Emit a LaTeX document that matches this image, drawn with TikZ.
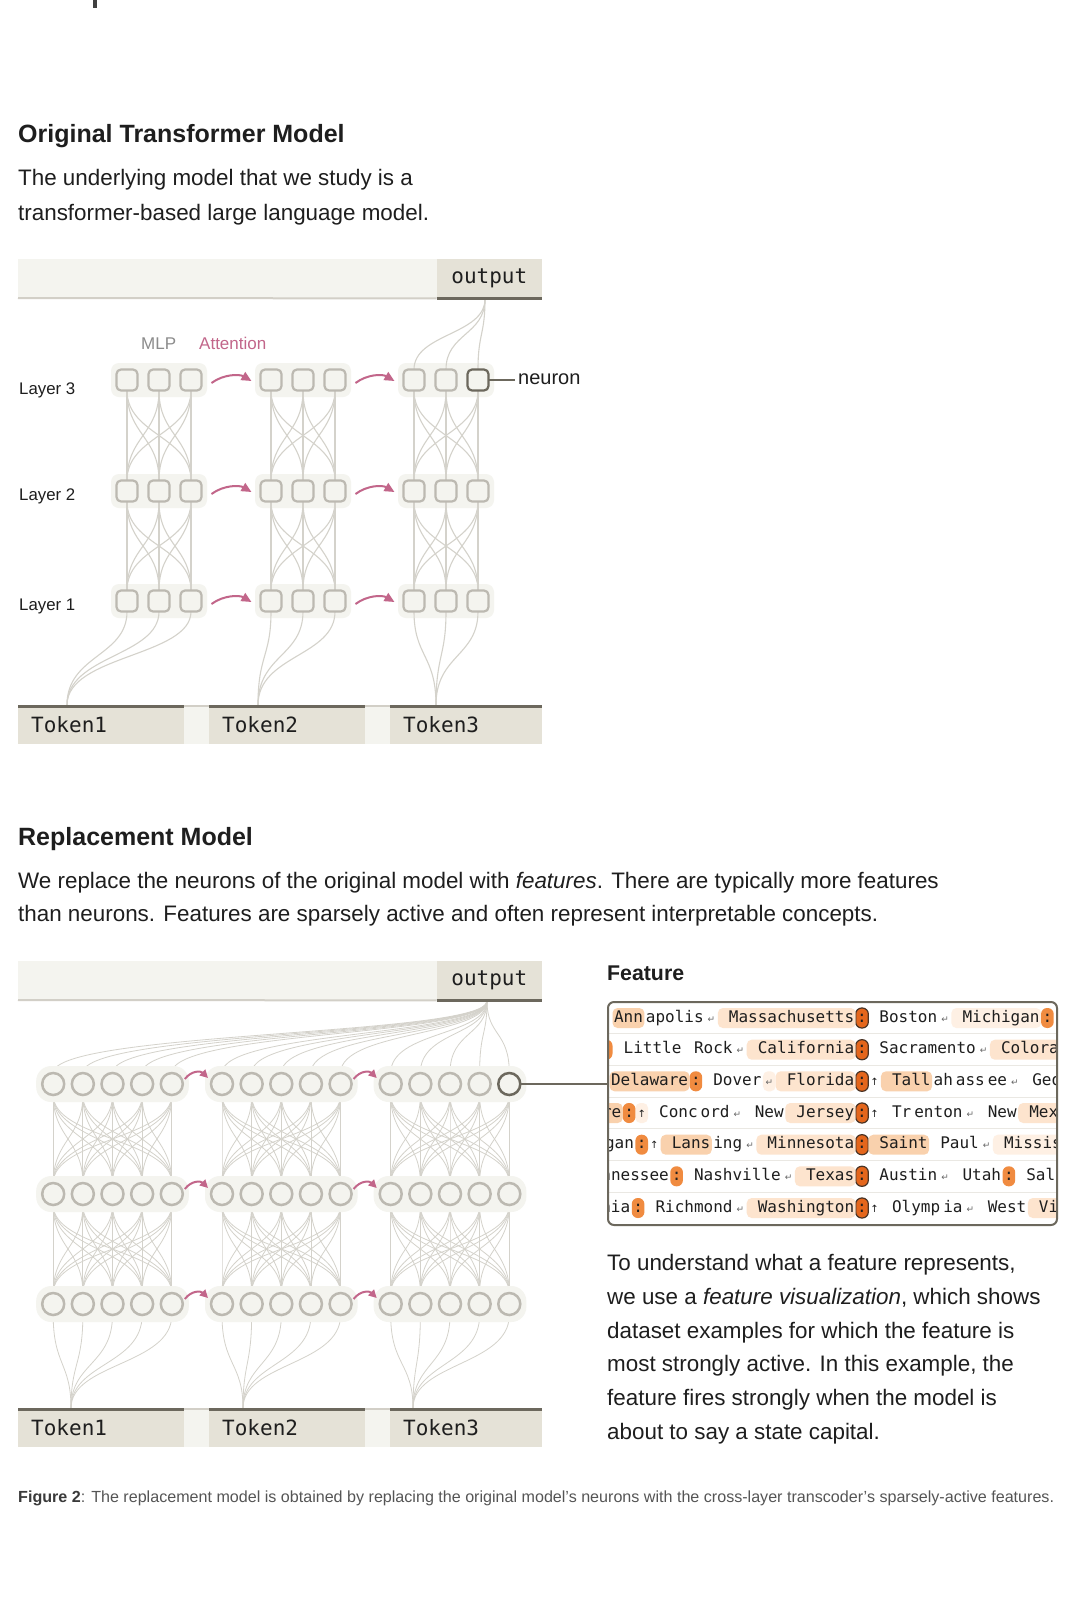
\documentclass[tikz,border=0pt]{standalone}
\usepackage{fontspec}
\setmainfont{Liberation Sans}
\newfontfamily\monofont{DejaVu Sans Mono}
\newfontfamily\dvsfont{DejaVu Sans}
\usetikzlibrary{arrows.meta,positioning,calc}
\pgfdeclarelayer{bgl}
\pgfdeclarelayer{layerA}
\pgfdeclarelayer{layerB}
\pgfsetlayers{bgl,layerA,layerB,main}

\definecolor{cText}{HTML}{1E1E1E}
\definecolor{cPale}{HTML}{F4F4EF}
\definecolor{cBeige}{HTML}{E5E2D7}
\definecolor{cDark}{HTML}{6C685D}
\definecolor{cLight}{HTML}{D2CFC7}
\definecolor{cNode}{HTML}{BCB9B1}
\definecolor{cWire}{HTML}{D4D2CB}
\definecolor{cAttn}{HTML}{C2668A}
\definecolor{cMlp}{HTML}{8C8C8C}
\definecolor{cCap}{HTML}{555555}
\definecolor{cFig}{HTML}{3A3A3A}
\definecolor{cStrong}{HTML}{E4661C}
\definecolor{cBorder}{HTML}{4A3426}
\definecolor{cMedOr}{HTML}{F08B40}
\definecolor{cHlM}{HTML}{F9D1AD}
\definecolor{cHlL}{HTML}{FDE4CE}
\definecolor{cHlV}{HTML}{FEF0E4}
\definecolor{cSep}{HTML}{EAE8E3}
\definecolor{cNl}{HTML}{666666}

\newcommand{\tsp}{\hspace*{9.632pt}}
\newcommand{\nlsym}{\makebox[9.632pt]{\dvsfont\fontsize{9}{9}\selectfont\color{cNl}↵}}
\newcommand{\upsym}{\makebox[9.632pt]{\dvsfont\fontsize{10}{10}\selectfont ↑}}

\begin{document}
\begin{tikzpicture}[x=1pt,y=-1pt,
  txt/.style={inner sep=0pt, anchor=base west, text=cText},
  heading/.style={txt, font=\bfseries\fontsize{25}{30}\selectfont},
  body/.style={txt, font=\fontsize{22.4}{30}\selectfont},
  layerlbl/.style={txt, font=\fontsize{16.8}{20}\selectfont},
  outbox/.style={fill=cBeige, inner sep=0pt, anchor=north east, minimum width=105pt, minimum height=39pt, font=\monofont\fontsize{21}{21}\selectfont, text=cText},
  tokbox/.style={fill=cBeige, inner xsep=13pt, inner ysep=0pt, anchor=north west, minimum height=39pt, align=left, font=\monofont\fontsize{21}{21}\selectfont, text=cText},
  sqnode/.style={draw=cNode, line width=2.2pt, fill=cPale, rounded corners=4.5pt, minimum size=21pt, inner sep=0pt, outer sep=0pt},
  cnode/.style={circle, draw=cNode, line width=2.5pt, fill=cPale, minimum size=22pt, inner sep=0pt, outer sep=0pt},
  osel332/.style={draw=cDark},
  rsel334/.style={draw=cDark},
  wire/.style={draw=cWire, line width=1.1pt},
  wirethin/.style={draw=cWire, line width=0.8pt},
  attn/.style={draw=cAttn, line width=2pt, -{Triangle[length=10pt,width=9pt]}},
  attnsmall/.style={draw=cAttn, line width=2pt, -{Triangle[length=8pt,width=8pt]}},
  tk/.style={font=\monofont\fontsize{16}{16}\selectfont, text=cText, inner xsep=1.5pt, inner ysep=2pt, text height=12pt, text depth=4pt, rounded corners=5pt, outer sep=0pt},
  colstrong/.style={fill=cStrong, draw=cBorder, line width=1.2pt, rounded corners=6pt},
  colmed/.style={fill=cMedOr, rounded corners=6pt}
]
\useasboundingbox (0,0) rectangle (1079,1604);
\begin{pgfonlayer}{bgl}
\fill[white] (0,0) rectangle (1079,1604);
\end{pgfonlayer}
\fill[cText!85] (93,0) rectangle (97,8);

% ---------------- texts ----------------
\node[heading] (h1) at (18,142) {Original Transformer Model};
\node[body] (p1a) at (18,185) {The underlying model that we study is a};
\node[body] (p1b) at (18,220) {transformer-based large language model.};

\node[heading] (h2) at (18,845) {Replacement Model};
\node[body] (p2a) at (18,888) {We replace the neurons of the original model with \textit{features}. There are typically more features};
\node[body] (p2b) at (18,921) {than neurons. Features are sparsely active and often represent interpretable concepts.};

\node[body] (q1) at (607,1270) {To understand what a feature represents,};
\node[body] (q2) at (607,1304) {we use a \textit{feature visualization}, which shows};
\node[body] (q3) at (607,1338) {dataset examples for which the feature is};
\node[body] (q4) at (607,1371) {most strongly active. In this example, the};
\node[body] (q5) at (607,1405) {feature fires strongly when the model is};
\node[body] (q6) at (607,1439) {about to say a state capital.};

\node[txt, font=\fontsize{16.1}{19}\selectfont, text=cCap] (cap) at (18,1502) {{\bfseries\color{cFig}Figure 2}: The replacement model is obtained by replacing the original model’s neurons with the cross-layer transcoder’s sparsely-active features.};

% ================= ORIGINAL MODEL =================
\fill[cPale] (18,259) rectangle (542,298);
\node[outbox] (out1) at (542,259) {output};
\draw[cLight, line width=2pt] (18,298) -- (out1.south west);
\draw[cDark, line width=3pt] (out1.south west) -- (out1.south east);

\node[txt, font=\fontsize{17}{20}\selectfont, text=cMlp] (mlp) at (141,349) {MLP};
\node[txt, font=\fontsize{17}{20}\selectfont, text=cAttn] (attlbl) at (199,349) {Attention};

\node[layerlbl] (lay3) at (19,394) {Layer 3};
\node[layerlbl] (lay2) at (19,500) {Layer 2};
\node[layerlbl] (lay1) at (19,610) {Layer 1};

\begin{pgfonlayer}{layerA}
\foreach \mx in {159,303,446}{
  \foreach \ly in {380,491,601}{
    \fill[cPale, rounded corners=8pt] ({\mx-48},{\ly-17}) rectangle ({\mx+48},{\ly+17});
  }
}
\end{pgfonlayer}

\foreach \g/\gx in {1/127,2/271,3/414}{
  \foreach \l/\ly in {3/380,2/491,1/601}{
    \foreach \i in {0,1,2}{
      \node[sqnode, osel\l\g\i/.try] (o\l\g\i) at ({\gx+32*\i},\ly) {};
    }
  }
}

% tokens (original)
\node[tokbox, text width=140pt] (ta1) at (18,705) {Token1};
\node[tokbox, text width=130pt] (ta2) at (209,705) {Token2};
\node[tokbox, text width=126pt] (ta3) at (390,705) {Token3};
\fill[cPale] (ta1.north east) rectangle (ta2.south west);
\fill[cPale] (ta2.north east) rectangle (ta3.south west);
\draw[cLight, line width=2pt] ([yshift=-1pt]ta1.north east) -- ([yshift=-1pt]ta2.north west);
\draw[cLight, line width=2pt] ([yshift=-1pt]ta2.north east) -- ([yshift=-1pt]ta3.north west);
\foreach \t in {1,2,3}{
  \draw[cDark, line width=3pt] ([yshift=-1.5pt]ta\t.north west) -- ([yshift=-1.5pt]ta\t.north east);
}
\coordinate (ot1) at (67,705);
\coordinate (ot2) at (258,705);
\coordinate (ot3) at (436,705);
\coordinate (oo) at (485,299);

\begin{pgfonlayer}{layerB}
\foreach \g in {1,2,3}{
  \foreach \i in {0,1,2}{
    \foreach \j in {0,1,2}{
      \draw[wire] (o3\g\i.south) .. controls +(0,44) and +(0,-44) .. (o2\g\j.north);
      \draw[wire] (o2\g\i.south) .. controls +(0,44) and +(0,-44) .. (o1\g\j.north);
    }
    \draw[wire] (ot\g) .. controls +(0,-50) and +(0,45) .. (o1\g\i.south);
  }
}
\foreach \i in {0,1,2}{
  \draw[wire] (oo) .. controls +(0,36) and +(0,-36) .. (o33\i.north);
}
\end{pgfonlayer}

\foreach \l in {3,2,1}{
  \foreach \g/\h in {1/2,2/3}{
    \draw[attn] ($(o\l\g2.east)+(10,3)$) .. controls +(12,-9) and +(-12,-7) .. ($(o\l\h0.west)+(-9,1)$);
  }
}

\node[txt, font=\fontsize{20}{24}\selectfont] (neulbl) at (518,384) {neuron};
\draw[cDark, line width=2pt, shorten >=3pt] (o332.east) -- (o332.east -| neulbl.west);

% ================= REPLACEMENT MODEL =================
\fill[cPale] (18,961) rectangle (542,1000);
\node[outbox] (out2) at (542,961) {output};
\draw[cLight, line width=2pt] (18,1000) -- (out2.south west);
\draw[cDark, line width=3pt] (out2.south west) -- (out2.south east);

\begin{pgfonlayer}{layerB}
\foreach \gx in {53.2,222,390.7}{
  \foreach \ly in {1084,1194,1304}{
    \fill[cPale, rounded corners=15pt] ({\gx-17},{\ly-18}) rectangle ({\gx+118.6+17},{\ly+18});
  }
}
\end{pgfonlayer}

\foreach \g/\gx in {1/53.2,2/222,3/390.7}{
  \foreach \l/\ly in {3/1084,2/1194,1/1304}{
    \foreach \i in {0,...,4}{
      \node[cnode, rsel\l\g\i/.try] (r\l\g\i) at ({\gx+29.65*\i},\ly) {};
    }
  }
}

\node[tokbox, text width=140pt] (tb1) at (18,1408) {Token1};
\node[tokbox, text width=130pt] (tb2) at (209,1408) {Token2};
\node[tokbox, text width=126pt] (tb3) at (390,1408) {Token3};
\fill[cPale] (tb1.north east) rectangle (tb2.south west);
\fill[cPale] (tb2.north east) rectangle (tb3.south west);
\draw[cLight, line width=2pt] ([yshift=-1pt]tb1.north east) -- ([yshift=-1pt]tb2.north west);
\draw[cLight, line width=2pt] ([yshift=-1pt]tb2.north east) -- ([yshift=-1pt]tb3.north west);
\foreach \t in {1,2,3}{
  \draw[cDark, line width=3pt] ([yshift=-1.5pt]tb\t.north west) -- ([yshift=-1.5pt]tb\t.north east);
}
\coordinate (rt1) at (71,1408);
\coordinate (rt2) at (243,1408);
\coordinate (rt3) at (413,1408);
\coordinate (ro) at (487,1001);

\begin{pgfonlayer}{layerA}
\foreach \g in {1,2,3}{
  \foreach \i in {0,...,4}{
    \foreach \j in {0,...,4}{
      \draw[wirethin] (r3\g\i.south) .. controls +(0,43) and +(0,-43) .. (r2\g\j.north);
      \draw[wirethin] (r2\g\i.south) .. controls +(0,43) and +(0,-43) .. (r1\g\j.north);
    }
    \draw[wirethin] (rt\g) .. controls +(0,-45) and +(0,50) .. (r1\g\i.south);
    \draw[wirethin] (ro) .. controls +(0,35) and +(0,-42) .. (r3\g\i.north);
  }
}
\end{pgfonlayer}

\foreach \l in {3,2,1}{
  \foreach \g/\h in {1/2,2/3}{
    \draw[attnsmall] ($(r\l\g4.east)+(2,-5)$) .. controls +(7,-9) and +(-7,-7) .. ($(r\l\h0.west)+(-3,-6)$);
  }
}

% ================= FEATURE VISUALIZATION =================
\node[txt, font=\bfseries\fontsize{21.3}{24}\selectfont] (feath) at (607,980) {Feature};

\begin{scope}
\clip[rounded corners=6pt] (607,1001) rectangle (1056,1224);
\fill[white] (607,1001) rectangle (1056,1224);
\foreach \yy in {1033.8,1065.5,1097.2,1128.8,1160.5,1192.2}{
  \draw[cSep, line width=1.2pt] (607,\yy) -- (1056,\yy);
}
% row 1
\node[tk,colstrong] (f1c) at (862,1018) {:};
\node[tk,fill=cHlL,left=0pt of f1c] (f1a) {\tsp Massachusetts};
\node[tk,left=0pt of f1a] (f1b) {\nlsym};
\node[tk,left=0pt of f1b] (f1d) {apolis};
\node[tk,fill=cHlM,left=0pt of f1d] (f1e) {Ann};
\node[tk,right=0pt of f1c] (f1f) {\tsp Boston};
\node[tk,right=0pt of f1f] (f1g) {\nlsym};
\node[tk,fill=cHlV,right=0pt of f1g] (f1h) {\tsp Michigan};
\node[tk,colmed,right=0pt of f1h] (f1i) {:};
\node[tk,right=0pt of f1i] (f1j) {\nlsym};
% row 2
\node[tk,colstrong] (f2c) at (862,1049.7) {:};
\node[tk,fill=cHlL,left=0pt of f2c] (f2a) {\tsp California};
\node[tk,left=0pt of f2a] (f2b) {\nlsym};
\node[tk,left=0pt of f2b] (f2d) {\tsp Rock};
\node[tk,left=0pt of f2d] (f2e) {\tsp Little};
\node[tk,colmed,left=0pt of f2e] (f2k) {:};
\node[tk,right=0pt of f2c] (f2f) {\tsp Sacramento};
\node[tk,right=0pt of f2f] (f2g) {\nlsym};
\node[tk,fill=cHlL,right=0pt of f2g] (f2h) {\tsp Colorado};
% row 3
\node[tk,colstrong] (f3c) at (862,1081.3) {:};
\node[tk,fill=cHlL,left=0pt of f3c] (f3a) {\tsp Florida};
\node[tk,fill=cHlV,left=0pt of f3a] (f3b) {\nlsym};
\node[tk,left=0pt of f3b] (f3d) {\tsp Dover};
\node[tk,colmed,left=0pt of f3d] (f3e) {:};
\node[tk,fill=cHlM,left=0pt of f3e] (f3k) {Delaware};
\node[tk,right=0pt of f3c] (f3f) {\upsym};
\node[tk,fill=cHlM,right=0pt of f3f] (f3g) {\tsp Tall};
\node[tk,right=0pt of f3g] (f3h) {ah};
\node[tk,right=0pt of f3h] (f3i) {ass};
\node[tk,right=0pt of f3i] (f3j) {ee};
\node[tk,right=0pt of f3j] (f3l) {\nlsym};
\node[tk,right=0pt of f3l] (f3m) {\tsp Georgia};
% row 4
\node[tk,colstrong] (f4c) at (862,1113) {:};
\node[tk,fill=cHlL,left=0pt of f4c] (f4a) {\tsp Jersey};
\node[tk,left=0pt of f4a] (f4b) {\tsp New};
\node[tk,left=0pt of f4b] (f4d) {\nlsym};
\node[tk,left=0pt of f4d] (f4e) {ord};
\node[tk,left=0pt of f4e] (f4k) {\tsp Conc};
\node[tk,fill=cHlV,left=0pt of f4k] (f4l) {\upsym};
\node[tk,colmed,left=0pt of f4l] (f4m) {:};
\node[tk,fill=cHlM,left=0pt of f4m] (f4n) {shire};
\node[tk,right=0pt of f4c] (f4f) {\upsym};
\node[tk,right=0pt of f4f] (f4g) {\tsp Tr};
\node[tk,right=0pt of f4g] (f4h) {enton};
\node[tk,right=0pt of f4h] (f4i) {\nlsym};
\node[tk,right=0pt of f4i] (f4j) {\tsp New};
\node[tk,fill=cHlL,right=0pt of f4j] (f4o) {\tsp Mexico};
% row 5
\node[tk,colstrong] (f5c) at (862,1144.7) {:};
\node[tk,fill=cHlL,left=0pt of f5c] (f5a) {\tsp Minnesota};
\node[tk,left=0pt of f5a] (f5b) {\nlsym};
\node[tk,left=0pt of f5b] (f5d) {ing};
\node[tk,fill=cHlM,left=0pt of f5d] (f5e) {\tsp Lans};
\node[tk,left=0pt of f5e] (f5k) {\upsym};
\node[tk,colmed,left=0pt of f5k] (f5l) {:};
\node[tk,left=0pt of f5l] (f5m) {\tsp Michigan};
\node[tk,fill=cHlM,right=0pt of f5c] (f5f) {\tsp Saint};
\node[tk,right=0pt of f5f] (f5g) {\tsp Paul};
\node[tk,right=0pt of f5g] (f5h) {\nlsym};
\node[tk,fill=cHlV,right=0pt of f5h] (f5i) {\tsp Mississippi};
% row 6
\node[tk,colstrong] (f6c) at (862,1176.3) {:};
\node[tk,fill=cHlL,left=0pt of f6c] (f6a) {\tsp Texas};
\node[tk,left=0pt of f6a] (f6b) {\nlsym};
\node[tk,left=0pt of f6b] (f6d) {\tsp Nashville};
\node[tk,colmed,left=0pt of f6d] (f6e) {:};
\node[tk,left=0pt of f6e] (f6k) {\tsp Tennessee};
\node[tk,right=0pt of f6c] (f6f) {\tsp Austin};
\node[tk,right=0pt of f6f] (f6g) {\nlsym};
\node[tk,right=0pt of f6g] (f6h) {\tsp Utah};
\node[tk,colmed,right=0pt of f6h] (f6i) {:};
\node[tk,right=0pt of f6i] (f6j) {\tsp Salt};
% row 7
\node[tk,colstrong] (f7c) at (862,1208) {:};
\node[tk,fill=cHlL,left=0pt of f7c] (f7a) {\tsp Washington};
\node[tk,left=0pt of f7a] (f7b) {\nlsym};
\node[tk,left=0pt of f7b] (f7d) {\tsp Richmond};
\node[tk,colmed,left=0pt of f7d] (f7e) {:};
\node[tk,left=0pt of f7e] (f7k) {\tsp Virginia};
\node[tk,right=0pt of f7c] (f7f) {\upsym};
\node[tk,right=0pt of f7f] (f7g) {\tsp Olymp};
\node[tk,right=0pt of f7g] (f7h) {ia};
\node[tk,right=0pt of f7h] (f7i) {\nlsym};
\node[tk,right=0pt of f7i] (f7j) {\tsp West};
\node[tk,fill=cHlL,right=0pt of f7j] (f7l) {\tsp Virginia};
\end{scope}

\node[draw=cDark, line width=2pt, rounded corners=6pt, inner sep=0pt, minimum width=449pt, minimum height=223pt, anchor=north west] (featbox) at (607,1001) {};
\draw[cDark, line width=2pt] (r334.east) -- (r334.east -| featbox.west);

\end{tikzpicture}
\end{document}
